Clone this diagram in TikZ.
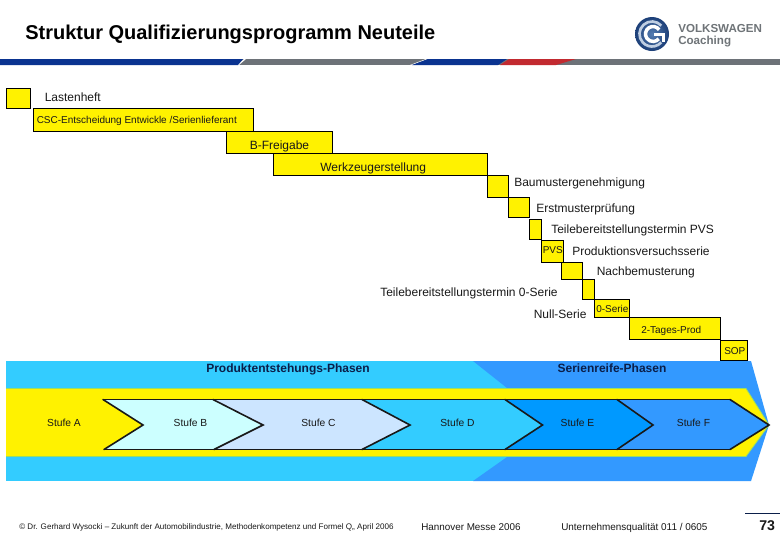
\documentclass[tikz,border=0pt]{standalone}
\usepackage{fontspec}
\setmainfont{Liberation Sans}
\definecolor{sky}{HTML}{33CCFF}
\definecolor{midblue}{HTML}{3399FF}
\definecolor{deepsky}{HTML}{0099FF}
\definecolor{paleb}{HTML}{CCFFFF}
\definecolor{palec}{HTML}{CCE5FF}
\definecolor{stripeblue}{HTML}{0A3390}
\definecolor{stripered}{HTML}{C22A30}
\definecolor{stripegrey}{HTML}{6D7278}
\definecolor{phasetext}{HTML}{0B1F4A}
\definecolor{edgegreen}{HTML}{99DD66}
\definecolor{logoblue}{HTML}{2A5C9E}
\definecolor{logodark}{HTML}{1C3F78}
\definecolor{logogrey}{HTML}{6F7478}
\begin{document}
\begin{tikzpicture}[x=0.75pt,y=-0.75pt,
  box/.style={draw=black,fill=yellow,line width=0.75pt},
  lab/.style={inner sep=0pt,anchor=west,font=\fontsize{9}{10}\selectfont,text=black!90},
  tiny/.style={lab,font=\fontsize{7.5}{9}\selectfont},
  phase/.style={inner sep=0pt,anchor=base,font=\fontsize{9}{10}\selectfont\bfseries,text=phasetext},
  stufe/.style={inner sep=0pt,anchor=center,font=\fontsize{7.7}{9}\selectfont,text=black!90},
  foot/.style={inner sep=0pt,anchor=west,text=black!90},
  chevline/.style={draw=black!90,line width=1.2pt,line join=miter,line cap=round},
  chevedge/.style={draw=black!90,line width=0.8pt}]
\useasboundingbox (0,0) rectangle (780,540);
\fill[white] (0,0) rectangle (780,540);
% title
\node[inner sep=0pt,anchor=west,font=\fontsize{15}{17}\selectfont\bfseries] (title) at (25,34) {Struktur Qualifizierungsprogramm Neuteile};
% header stripe
\fill[stripegrey] (0,59) rectangle (780,65);
\fill[white] (237,65) -- (244,59) -- (246,59) -- (239,65) -- cycle;
\fill[white] (410,65) -- (426,59) -- (428,59) -- (412,65) -- cycle;
\fill[stripeblue] (0,59) -- (243,59) -- (238,65) -- (0,65) -- cycle;
\fill[stripeblue] (428,59) -- (507,59) -- (498,65) -- (412,65) -- cycle;
\fill[stripered] (509,59) -- (576,59) -- (556,65) -- (500,65) -- cycle;
% logo
\shade[inner color=logoblue!80!white,outer color=logodark] (652,34) circle[radius=17];
\draw[logoblue!30!white,line width=2pt] ([shift={(-42:12.5)}]652,34) arc[start angle=-42,end angle=-318,radius=12.5];
\draw[white,line width=2.6pt] ([shift={(-35:7.5)}]653,34) arc[start angle=-35,end angle=-320,radius=7.5];
\fill[white] (654,32.5) rectangle (665,36);
\fill[white] (661.5,32.5) rectangle (665,42);
\node[inner sep=0pt,anchor=west,font=\fontsize{8.7}{10}\selectfont\bfseries,text=logogrey] (vw) at (678,28.5) {VOLKSWAGEN};
\node[inner sep=0pt,anchor=west,font=\fontsize{8.7}{10}\selectfont\bfseries,text=logogrey] (coach) at (678,41.5) {Coaching};
% staircase
\draw[box] (6,88) rectangle (30.5,108);
\node[lab] (l1) at (44.5,97) {Lastenheft};
\draw[box] (33.5,108) rectangle (253,131);
\node[tiny] (l2) at (36.5,120.5) {CSC-Entscheidung Entwickle /Serienlieferant};
\draw[box] (226.5,131) rectangle (332.5,153);
\node[lab] (l3) at (249.5,146) {B-Freigabe};
\draw[box] (273.5,153) rectangle (487,175);
\node[lab] (l4) at (320,168) {Werkzeugerstellung};
\draw[box] (487,175) rectangle (508.5,197);
\node[lab] (l5) at (514,183.5) {Baumustergenehmigung};
\draw[box] (508.5,197) rectangle (529.5,217.5);
\node[lab] (l6) at (536,209.5) {Erstmusterprüfung};
\draw[box] (529.5,219) rectangle (541,239.5);
\node[lab] (l7) at (551,230.5) {Teilebereitstellungstermin PVS};
\draw[box] (541,240) rectangle (563.5,262);
\node[tiny] (l8) at (542.5,250.5) {PVS};
\node[lab] (l9) at (572,251.5) {Produktionsversuchsserie};
\draw[box] (561,262) rectangle (582.5,279.5);
\node[lab] (l10) at (596.5,272.5) {Nachbemusterung};
\draw[box] (582.5,279.5) rectangle (594.5,299.5);
\node[lab] (l11) at (380,293) {Teilebereitstellungstermin 0-Serie};
\draw[box] (594.5,299.5) rectangle (629.5,317.5);
\node[tiny] (l12) at (596,309) {0-Serie};
\node[lab] (l13) at (533.5,314) {Null-Serie};
\draw[box] (629.5,317.5) rectangle (720.5,339);
\node[tiny] (l14) at (641,330.5) {2-Tages-Prod};
\draw[box] (720.5,340) rectangle (747.5,360.5);
\node[tiny] (l15) at (724,351) {SOP};
% bands
\fill[sky] (6,361) rectangle (508,481);
\fill[midblue] (473,361) -- (751,361) -- (769,425) -- (751,481) -- (473,481) -- (507,457) -- (507,388) -- cycle;
\fill[yellow] (6,388.5) -- (746,388.5) -- (769,425) -- (746,456.5) -- (6,456.5) -- cycle;
\draw[edgegreen,line width=0.6pt] (6,388.5) -- (746,388.5) -- (769,425) -- (746,456.5) -- (6,456.5);
\node[phase] (p1) at (288,372.5) {Produktentstehungs-Phasen};
\node[phase] (p2) at (612,372.5) {Serienreife-Phasen};
% chevrons
\fill[paleb] (103,399.5) -- (213,399.5) -- (263,425) -- (213,449.5) -- (104,449.5) -- (143,425) -- cycle;
\fill[palec] (213,399.5) -- (362,399.5) -- (410,425) -- (362,449.5) -- (214,449.5) -- (263,425) -- cycle;
\fill[sky] (362,399.5) -- (505,399.5) -- (542.5,425) -- (505,449.5) -- (362,449.5) -- (410,425) -- cycle;
\fill[deepsky] (505,399.5) -- (617,399.5) -- (653,425) -- (617,449.5) -- (505,449.5) -- (542.5,425) -- cycle;
\fill[midblue] (617,399.5) -- (730,399.5) -- (769,425) -- (730,449.5) -- (617,449.5) -- (653,425) -- cycle;
\draw[chevedge] (103,399.5) -- (730,399.5);
\draw[chevedge] (104,449.5) -- (730,449.5);
\draw[chevline] (103,399.5) -- (143,425) -- (104,449.5);
\draw[chevline] (213,399.5) -- (263,425) -- (214,449.5);
\draw[chevline] (362,399.5) -- (410,425) -- (362,449.5);
\draw[chevline] (505,399.5) -- (542.5,425) -- (505,449.5);
\draw[chevline] (617,399.5) -- (653,425) -- (617,449.5);
\draw[chevline] (730,399.5) -- (769,425) -- (730,449.5);
\node[stufe] (s1) at (64,423) {Stufe A};
\node[stufe] (s2) at (190.5,423) {Stufe B};
\node[stufe] (s3) at (318.5,423) {Stufe C};
\node[stufe] (s4) at (457.5,423) {Stufe D};
\node[stufe] (s5) at (577.5,423) {Stufe E};
\node[stufe] (s6) at (693.5,423) {Stufe F};
% footer
\node[foot,font=\fontsize{6.05}{8}\selectfont] (f1) at (19,527) {© Dr. Gerhard Wysocki – Zukunft der Automobilindustrie, Methodenkompetenz und Formel Q,, April 2006};
\node[foot,font=\fontsize{7.4}{9}\selectfont] (f2) at (421,527) {Hannover Messe 2006};
\node[foot,font=\fontsize{7.45}{9}\selectfont] (f3) at (561,527.5) {Unternehmensqualität 011 / 0605};
\draw[phasetext,line width=0.6pt] (745,513.5) -- (780,513.5);
\node[foot,font=\fontsize{10.6}{12}\selectfont\bfseries] (f4) at (759,525.5) {73};
\end{tikzpicture}
\end{document}
